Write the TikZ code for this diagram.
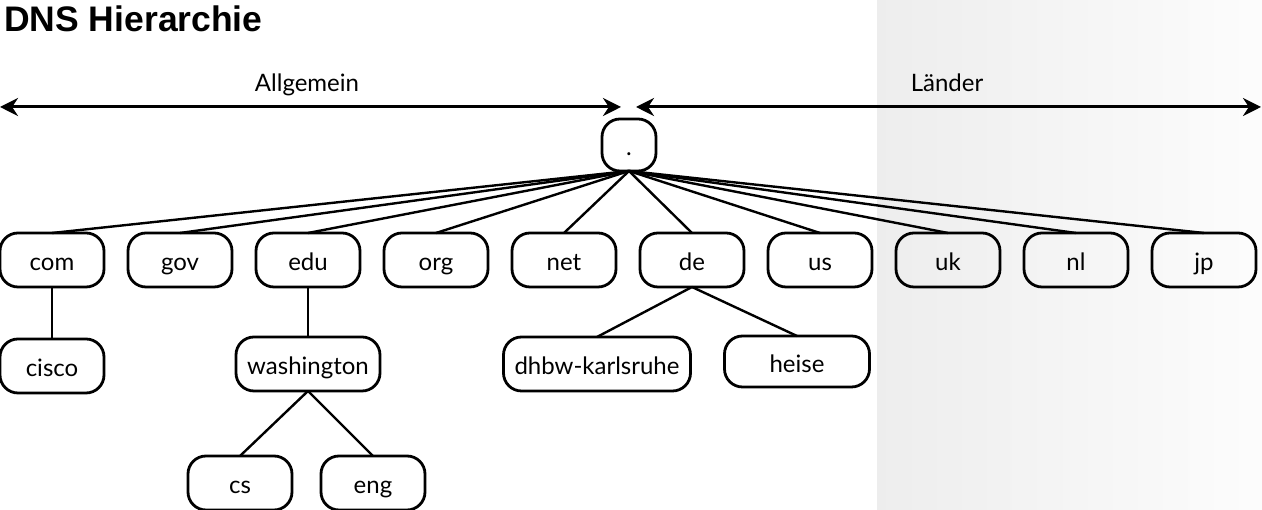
\documentclass[tikz,border=0pt]{standalone}
\usepackage{fontspec}
\setmainfont{Lato}
\newfontfamily\titlefont{Liberation Sans}
\usetikzlibrary{positioning,arrows.meta}

\begin{document}
\begin{tikzpicture}[x=1pt, y=1pt, >={Stealth[length=18pt,width=18pt]}, node distance=24pt]
    \tikzstyle{dom}=[draw=black, line width=2.8pt, rounded corners=18pt, outer sep=0pt, inner sep=2pt,
                     minimum width=104pt, minimum height=54pt, text height=22pt, text depth=0pt,
                     font=\fontsize{24}{27}\selectfont]
    \tikzstyle{link}=[line width=2.4pt]
    \tikzstyle{span}=[<->, line width=3pt]
    \tikzstyle{caption}=[font=\fontsize{24}{27}\selectfont]
    \useasboundingbox (0,0) rectangle (1262,510);
    % country side
    \shade[left color=black!7, right color=black!1] (877,0) rectangle (1262,510);

    \node[anchor=base west, inner sep=0pt, font=\titlefont\bfseries\fontsize{35.5}{38}\selectfont] (title) at (4,478) {DNS Hierarchie};

    \coordinate (gl) at (0,403);
    \coordinate (gr) at (621,403);
    \coordinate (cl) at (636,403);
    \coordinate (cr) at (1261,403);
    \node[caption] (allg)   at (307,425) {Allgemein};
    \node[caption] (laender) at (947,427) {Länder};

    \node[dom, minimum width=54pt, minimum height=52pt] (root) at (629,365) {.};

    \node[dom]    (com) at (52,250)         {com};
    \node[dom]    (gov)[right=of com]       {gov};
    \node[dom]    (edu)[right=of gov]       {edu};
    \node[dom]    (org)[right=of edu]       {org};
    \node[dom]    (net)[right=of org]       {net};
    \node[dom]    (de)[right=of net]        {de};
    \node[dom]    (us)[right=of de]         {us};
    \node[dom]    (uk)[right=of us]         {uk};
    \node[dom]    (nl)[right=of uk]         {nl};
    \node[dom]    (jp)[right=of nl]         {jp};

    \node[dom]    (cisco)[below=52pt of com]                     {cisco};
    \node[dom, minimum width=144pt] (washington)[below=50pt of edu] {washington};
    \node[dom]    (cs)[below=65pt of washington, xshift=-68pt]   {cs};
    \node[dom]    (eng)[below=65pt of washington, xshift=65pt]   {eng};
    \node[dom, minimum width=187pt] (dhbw)[below=50pt of de, xshift=-95pt] {dhbw-karlsruhe};
    \node[dom, minimum width=145pt, minimum height=51pt] (heise)[below=49pt of de, xshift=105pt] {heise};

    \draw[span] (gl) -- (gr);
    \draw[span] (cl) -- (cr);

    \path[link]
(root.south) edge (com.north)
             edge (gov.north)
             edge (edu.north)
             edge (org.north)
             edge (net.north)
             edge (de.north)
             edge (us.north)
             edge (uk.north)
             edge (nl.north)
             edge (jp.north)
(com) edge (cisco)
(edu) edge (washington)
(washington.south) edge (cs.north)
                   edge (eng.north)
(de.south) edge (dhbw.north)
           edge (heise.north);
\end{tikzpicture}
\end{document}
